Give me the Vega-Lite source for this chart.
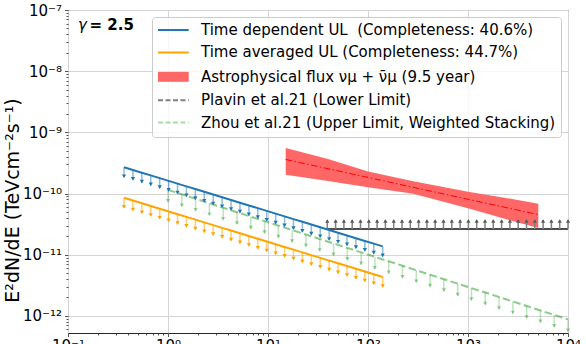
{
  "$schema": "https://vega.github.io/schema/vega-lite/v6.json",
  "width": 500,
  "height": 323,
  "autosize": "none",
  "padding": {"left": 68, "top": 10, "right": 18, "bottom": 11},
  "background": "white",
  "datasets": {
    "blue": [
      {"E": 0.3631, "F": 2.692e-10}, {"E": 0.4459, "F": 2.429e-10}, {"E": 0.5475, "F": 2.192e-10}, {"E": 0.6723, "F": 1.978e-10},
      {"E": 0.8257, "F": 1.785e-10}, {"E": 1.0139, "F": 1.61e-10}, {"E": 1.2451, "F": 1.453e-10}, {"E": 1.529, "F": 1.311e-10},
      {"E": 1.8776, "F": 1.183e-10}, {"E": 2.3057, "F": 1.068e-10}, {"E": 2.8314, "F": 9.635e-11}, {"E": 3.477, "F": 8.694e-11},
      {"E": 4.2697, "F": 7.845e-11}, {"E": 5.2433, "F": 7.079e-11}, {"E": 6.4387, "F": 6.388e-11}, {"E": 7.9068, "F": 5.764e-11},
      {"E": 9.7096, "F": 5.202e-11}, {"E": 11.924, "F": 4.694e-11}, {"E": 14.642, "F": 4.236e-11}, {"E": 17.98, "F": 3.822e-11},
      {"E": 22.08, "F": 3.449e-11}, {"E": 27.114, "F": 3.112e-11}, {"E": 33.296, "F": 2.808e-11}, {"E": 40.888, "F": 2.534e-11},
      {"E": 50.211, "F": 2.287e-11}, {"E": 61.66, "F": 2.064e-11}, {"E": 75.718, "F": 1.862e-11}, {"E": 92.982, "F": 1.68e-11},
      {"E": 114.19, "F": 1.516e-11}, {"E": 140.21, "F": 1.368e-11}
    ],
    "orange": [
      {"E": 0.3631, "F": 8.512e-11}, {"E": 0.4459, "F": 7.681e-11}, {"E": 0.5475, "F": 6.931e-11}, {"E": 0.6723, "F": 6.255e-11},
      {"E": 0.8257, "F": 5.644e-11}, {"E": 1.0139, "F": 5.093e-11}, {"E": 1.2451, "F": 4.596e-11}, {"E": 1.529, "F": 4.147e-11},
      {"E": 1.8776, "F": 3.742e-11}, {"E": 2.3057, "F": 3.377e-11}, {"E": 2.8314, "F": 3.047e-11}, {"E": 3.477, "F": 2.749e-11},
      {"E": 4.2697, "F": 2.481e-11}, {"E": 5.2433, "F": 2.239e-11}, {"E": 6.4387, "F": 2.02e-11}, {"E": 7.9068, "F": 1.823e-11},
      {"E": 9.7096, "F": 1.645e-11}, {"E": 11.924, "F": 1.484e-11}, {"E": 14.642, "F": 1.339e-11}, {"E": 17.98, "F": 1.209e-11},
      {"E": 22.08, "F": 1.091e-11}, {"E": 27.114, "F": 9.84e-12}, {"E": 33.296, "F": 8.88e-12}, {"E": 40.888, "F": 8.01e-12},
      {"E": 50.211, "F": 7.23e-12}, {"E": 61.66, "F": 6.53e-12}, {"E": 75.718, "F": 5.89e-12}, {"E": 92.982, "F": 5.31e-12},
      {"E": 114.19, "F": 4.79e-12}, {"E": 140.21, "F": 4.32e-12}
    ],
    "zhou": [
      {"E": 1, "F": 1.148e-10}, {"E": 1.3738, "F": 9.706e-11}, {"E": 1.8874, "F": 8.204e-11}, {"E": 2.5929, "F": 6.935e-11},
      {"E": 3.5622, "F": 5.862e-11}, {"E": 4.894, "F": 4.955e-11}, {"E": 6.7234, "F": 4.188e-11}, {"E": 9.2368, "F": 3.54e-11},
      {"E": 12.69, "F": 2.992e-11}, {"E": 17.433, "F": 2.529e-11}, {"E": 23.95, "F": 2.138e-11}, {"E": 32.903, "F": 1.807e-11},
      {"E": 45.203, "F": 1.528e-11}, {"E": 62.102, "F": 1.291e-11}, {"E": 85.316, "F": 1.0915e-11}, {"E": 117.21, "F": 9.226e-12},
      {"E": 161.03, "F": 7.799e-12}, {"E": 221.23, "F": 6.592e-12}, {"E": 303.92, "F": 5.572e-12}, {"E": 417.53, "F": 4.71e-12},
      {"E": 573.61, "F": 3.981e-12}, {"E": 788.05, "F": 3.365e-12}, {"E": 1082.6, "F": 2.844e-12}, {"E": 1487.3, "F": 2.404e-12},
      {"E": 2043.3, "F": 2.032e-12}, {"E": 2807.3, "F": 1.718e-12}, {"E": 3856.7, "F": 1.452e-12}, {"E": 5298.4, "F": 1.227e-12},
      {"E": 7279, "F": 1.038e-12}, {"E": 10000, "F": 8.77e-13}
    ],
    "plavin": [
      {"E": 39.17, "F": 2.63e-11}, {"E": 47.42, "F": 2.63e-11}, {"E": 57.41, "F": 2.63e-11}, {"E": 69.5, "F": 2.63e-11},
      {"E": 84.14, "F": 2.63e-11}, {"E": 101.86, "F": 2.63e-11}, {"E": 123.31, "F": 2.63e-11}, {"E": 149.28, "F": 2.63e-11},
      {"E": 180.72, "F": 2.63e-11}, {"E": 218.78, "F": 2.63e-11}, {"E": 264.85, "F": 2.63e-11}, {"E": 320.63, "F": 2.63e-11},
      {"E": 388.15, "F": 2.63e-11}, {"E": 469.89, "F": 2.63e-11}, {"E": 568.85, "F": 2.63e-11}, {"E": 688.65, "F": 2.63e-11},
      {"E": 833.68, "F": 2.63e-11}, {"E": 1009.3, "F": 2.63e-11}, {"E": 1221.8, "F": 2.63e-11}, {"E": 1479.1, "F": 2.63e-11},
      {"E": 1790.6, "F": 2.63e-11}, {"E": 2167.7, "F": 2.63e-11}, {"E": 2624.2, "F": 2.63e-11}, {"E": 3176.9, "F": 2.63e-11},
      {"E": 3845.9, "F": 2.63e-11}, {"E": 4655.9, "F": 2.63e-11}, {"E": 5636.4, "F": 2.63e-11}, {"E": 6823.4, "F": 2.63e-11},
      {"E": 8260.4, "F": 2.63e-11}, {"E": 10000, "F": 2.63e-11}
    ],
    "band": [
      {"E": 15.03, "F": 5.534e-10, "F2": 2.028e-10},
      {"E": 39.81, "F": 3.664e-10, "F2": 1.596e-10},
      {"E": 100, "F": 2.296e-10, "F2": 1.268e-10},
      {"E": 283.8, "F": 1.592e-10, "F2": 9.886e-11},
      {"E": 1000, "F": 1.072e-10, "F2": 5.754e-11},
      {"E": 2238.7, "F": 8.63e-11, "F2": 3.936e-11},
      {"E": 5047, "F": 6.776e-11, "F2": 2.742e-11}
    ],
    "mid": [
      {"E": 15.03, "F": 3.606e-10}, {"E": 100, "F": 1.832e-10}, {"E": 1000, "F": 8.054e-11}, {"E": 5047, "F": 4.529e-11}
    ],
    "gamma": [{"E": 0.126, "F": 5.67e-8, "t": "γ"}],
    "gval": [{"E": 0.164, "F": 5.67e-8, "t": "= 2.5"}]
  },
  "encoding": {
    "x": {
      "field": "E", "type": "quantitative",
      "scale": {"type": "log", "domain": [0.1, 10000], "nice": false},
      "axis": {
        "values": [0.1,0.2,0.3,0.4,0.5,0.6,0.7,0.8,0.9,1,2,3,4,5,6,7,8,9,10,20,30,40,50,60,70,80,90,100,200,300,400,500,600,700,800,900,1000,2000,3000,4000,5000,6000,7000,8000,9000,10000],
        "labelExpr": "abs(log(datum.value)/LN10 - round(log(datum.value)/LN10)) < 1e-6 ? '10' + (round(log(datum.value)/LN10) < 0 ? '⁻' : '') + (abs(round(log(datum.value)/LN10)) >= 10 ? '¹' : '') + ['⁰','¹','²','³','⁴','⁵','⁶','⁷','⁸','⁹'][abs(round(log(datum.value)/LN10)) % 10] : ''",
        "title": null,
        "grid": true,
        "gridColor": "#d4d4d4",
        "gridWidth": 1,
        "gridOpacity": {"condition": {"test": "abs(log(datum.value)/LN10 - round(log(datum.value)/LN10)) < 1e-6", "value": 1}, "value": 0},
        "tickSize": {"condition": {"test": "abs(log(datum.value)/LN10 - round(log(datum.value)/LN10)) < 1e-6", "value": 3.5}, "value": 2},
        "tickColor": "#262626",
        "tickWidth": 0.8,
        "domain": false,
        "labelFont": "DejaVu Sans",
        "labelFontSize": 15,
        "labelColor": "#000000",
        "labelPadding": 2,
        "labelOverlap": false,
        "labelFlush": false,
        "labelBound": false
      }
    },
    "y": {
      "field": "F", "type": "quantitative",
      "scale": {"type": "log", "domain": [5.25e-13, 1e-7], "nice": false},
      "axis": {
        "values": [6e-13,7e-13,8e-13,9e-13,1e-12,2e-12,3e-12,4e-12,5e-12,6e-12,7e-12,8e-12,9e-12,1e-11,2e-11,3e-11,4e-11,5e-11,6e-11,7e-11,8e-11,9e-11,1e-10,2e-10,3e-10,4e-10,5e-10,6e-10,7e-10,8e-10,9e-10,1e-9,2e-9,3e-9,4e-9,5e-9,6e-9,7e-9,8e-9,9e-9,1e-8,2e-8,3e-8,4e-8,5e-8,6e-8,7e-8,8e-8,9e-8,1e-7],
        "labelExpr": "abs(log(datum.value)/LN10 - round(log(datum.value)/LN10)) < 1e-6 ? '10' + (round(log(datum.value)/LN10) < 0 ? '⁻' : '') + (abs(round(log(datum.value)/LN10)) >= 10 ? '¹' : '') + ['⁰','¹','²','³','⁴','⁵','⁶','⁷','⁸','⁹'][abs(round(log(datum.value)/LN10)) % 10] : ''",
        "title": "E²dN/dE (TeVcm⁻²s⁻¹)",
        "titleFont": "DejaVu Sans",
        "titleFontSize": 19,
        "titleFontWeight": "normal",
        "titleColor": "#000000",
        "titleX": -55.5,
        "titleY": 190,
        "titleBaseline": "middle",
        "grid": true,
        "gridColor": "#d4d4d4",
        "gridWidth": 1,
        "gridOpacity": {"condition": {"test": "abs(log(datum.value)/LN10 - round(log(datum.value)/LN10)) < 1e-6", "value": 1}, "value": 0},
        "tickSize": {"condition": {"test": "abs(log(datum.value)/LN10 - round(log(datum.value)/LN10)) < 1e-6", "value": 3.5}, "value": 2},
        "tickColor": "#262626",
        "tickWidth": 0.8,
        "domain": false,
        "labelFont": "DejaVu Sans",
        "labelFontSize": 15,
        "labelColor": "#000000",
        "labelPadding": 3,
        "labelOverlap": false,
        "labelFlush": false,
        "labelBound": false
      }
    }
  },
  "layer": [
    {
      "data": {"name": "band"},
      "mark": {"type": "area", "opacity": 1},
      "encoding": {
        "y2": {"field": "F2"},
        "color": {
          "datum": "Astrophysical flux νμ + ν̄μ (9.5 year)",
          "type": "nominal",
          "scale": {
            "domain": [
              "Time dependent UL\u00a0 (Completeness: 40.6%)",
              "Time averaged UL (Completeness: 44.7%)",
              "Astrophysical flux νμ + ν̄μ (9.5 year)",
              "Plavin et al.21 (Lower Limit)",
              "Zhou et al.21 (Upper Limit, Weighted Stacking)"
            ],
            "range": ["#1f77b4", "#ffa500", "#ff6666", "#7f7f7f", "#2ca02c"]
          },
          "legend": {
            "title": null,
            "orient": "top-right",
            "offset": 7,
            "padding": 5.5,
            "rowPadding": 6.4,
            "fillColor": "rgba(255,255,255,0.8)",
            "strokeColor": "#cccccc",
            "cornerRadius": 3,
            "symbolSize": 64,
            "symbolStrokeWidth": 2,
            "symbolOpacity": 1,
            "symbolType": {"expr": "indexof(datum.value, 'Astrophysical') == 0 ? 'M-1.75,-1.25H5.93V1.25H-1.75Z' : 'M-1.75,0H5.93'"},
            "symbolStrokeColor": {"expr": "indexof(datum.value, 'Time dependent') == 0 ? '#1f77b4' : indexof(datum.value, 'Time averaged') == 0 ? '#ffa500' : indexof(datum.value, 'Plavin') == 0 ? '#7f7f7f' : indexof(datum.value, 'Zhou') == 0 ? '#a8dca8' : 'transparent'"},
            "symbolDash": {"expr": "(indexof(datum.value, 'Plavin') == 0 || indexof(datum.value, 'Zhou') == 0) ? [5, 2.5] : [1, 0]"},
            "labelFont": "DejaVu Sans",
            "labelFontSize": 15,
            "labelColor": "#000000",
            "labelOffset": 28.5,
            "labelLimit": 600
          }
        }
      }
    },
    {
      "data": {"name": "mid"},
      "mark": {"type": "line", "color": "#ff0000", "strokeWidth": 1, "strokeDash": [6.5, 2.5, 1.5, 2.5]}
    },
    {
      "data": {"name": "plavin"},
      "mark": {"type": "line", "color": "#4d4d4d", "strokeWidth": 2}
    },
    {
      "data": {"name": "plavin"},
      "mark": {"type": "rule", "color": "#7f7f7f", "strokeWidth": 1.5, "y2Offset": -9},
      "encoding": {"y2": {"field": "F"}}
    },
    {
      "data": {"name": "plavin"},
      "mark": {"type": "point", "shape": "triangle-up", "filled": true, "size": 18, "color": "#5a5a5a", "opacity": 1, "yOffset": -8}
    },
    {
      "data": {"name": "zhou"},
      "mark": {"type": "line", "color": "#2ca02c", "opacity": 0.55, "strokeWidth": 2, "strokeDash": [7.5, 3.5]}
    },
    {
      "data": {"name": "zhou"},
      "mark": {"type": "rule", "color": "#2ca02c", "opacity": 0.3, "strokeWidth": 1.5, "y2Offset": 12},
      "encoding": {"y2": {"field": "F"}}
    },
    {
      "data": {"name": "zhou"},
      "mark": {"type": "point", "shape": "triangle-down", "filled": true, "size": 18, "color": "#2ca02c", "opacity": 0.45, "yOffset": 11}
    },
    {
      "data": {"name": "blue"},
      "mark": {"type": "line", "color": "#1f77b4", "strokeWidth": 2}
    },
    {
      "data": {"name": "blue"},
      "mark": {"type": "rule", "color": "#1f77b4", "opacity": 0.5, "strokeWidth": 1.5, "y2Offset": 10},
      "encoding": {"y2": {"field": "F"}}
    },
    {
      "data": {"name": "blue"},
      "mark": {"type": "point", "shape": "triangle-down", "filled": true, "size": 18, "color": "#1f77b4", "opacity": 1, "yOffset": 9}
    },
    {
      "data": {"name": "orange"},
      "mark": {"type": "line", "color": "#ffa500", "strokeWidth": 2}
    },
    {
      "data": {"name": "orange"},
      "mark": {"type": "rule", "color": "#ffa500", "opacity": 0.55, "strokeWidth": 1.5, "y2Offset": 10},
      "encoding": {"y2": {"field": "F"}}
    },
    {
      "data": {"name": "orange"},
      "mark": {"type": "point", "shape": "triangle-down", "filled": true, "size": 18, "color": "#ffa500", "opacity": 1, "yOffset": 9}
    },
    {
      "data": {"name": "gamma"},
      "mark": {"type": "text", "align": "left", "baseline": "middle", "font": "DejaVu Sans", "fontSize": 15, "fontStyle": "italic", "color": "#000000"},
      "encoding": {"text": {"field": "t"}}
    },
    {
      "data": {"name": "gval"},
      "mark": {"type": "text", "align": "left", "baseline": "middle", "font": "DejaVu Sans", "fontSize": 15, "fontWeight": "bold", "color": "#000000"},
      "encoding": {"text": {"field": "t"}}
    }
  ],
  "config": {
    "view": {"stroke": "#262626", "strokeWidth": 1},
    "font": "DejaVu Sans"
  }
}
